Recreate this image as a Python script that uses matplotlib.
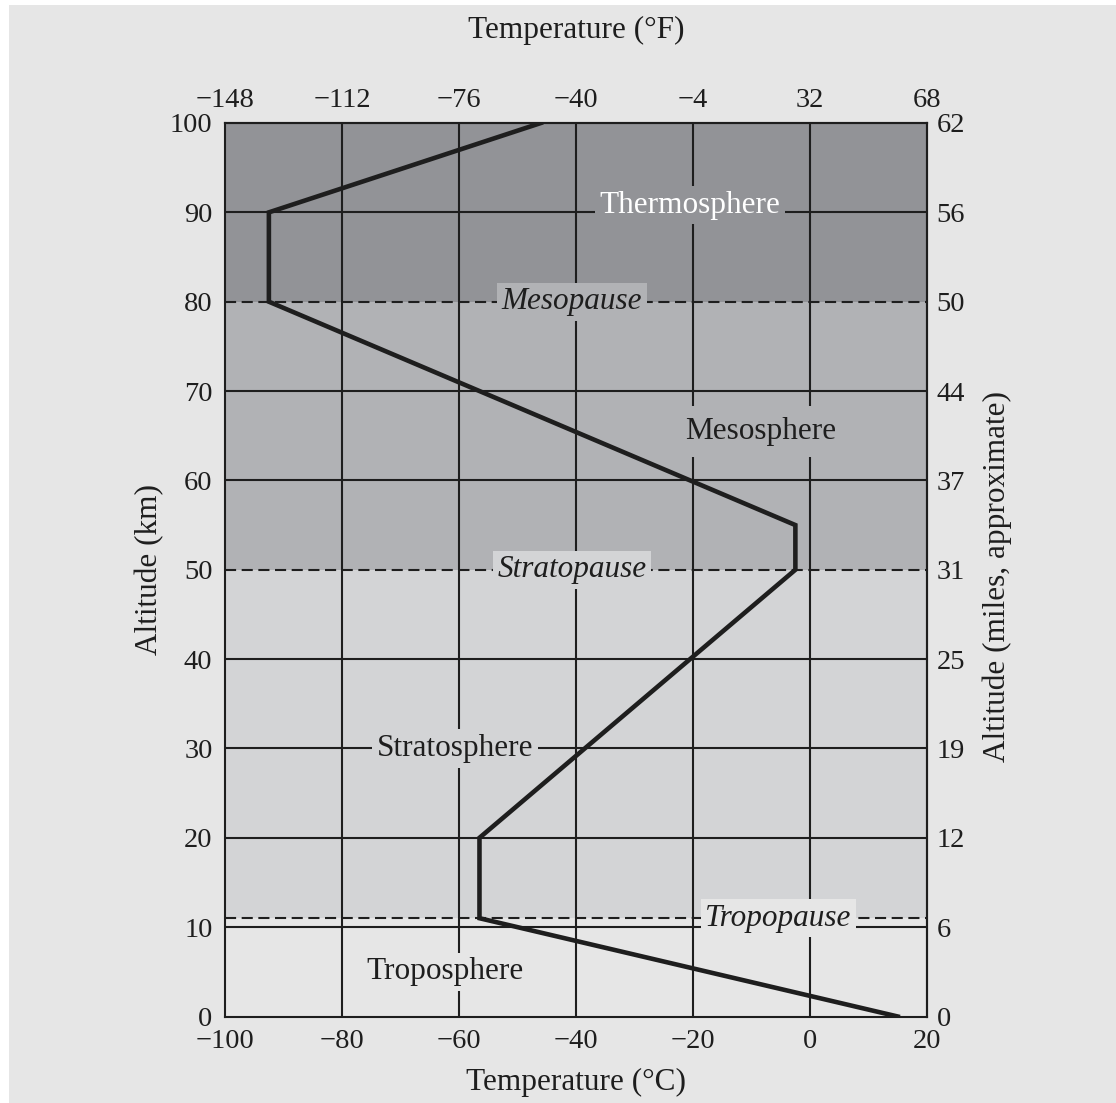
import matplotlib
matplotlib.use('Agg')
import matplotlib.pyplot as plt
from matplotlib.patches import Rectangle

# temperature profile of the standard atmosphere
temp_c = [15, -56.5, -56.5, -2.5, -2.5, -92.5, -92.5, -46]
alt_km = [0, 11, 20, 50, 55, 80, 90, 100]

# layers: bounds and shades
layer_bounds = [0, 11, 50, 80, 100]
layer_colors = ['#e6e6e6', '#d3d4d6', '#b1b2b5', '#929397']
pause_km = [11, 50, 80]

c_ticks = [-100, -80, -60, -40, -20, 0, 20]
f_ticks = [-148, -112, -76, -40, -4, 32, 68]
km_ticks = [0, 10, 20, 30, 40, 50, 60, 70, 80, 90, 100]
mile_labels = ['0', '6', '12', '19', '25', '31', '37', '44', '50', '56', '62']

layer_names = ['Thermosphere', 'Mesopause', 'Mesosphere', 'Stratopause',
               'Stratosphere', 'Tropopause', 'Troposphere']
name_x = [-20.5, -40.7, -8.5, -40.7, -60.7, -5.4, -62.4]
name_y = [90.8, 80, 65.5, 50, 30, 11, 5]
name_italic = [False, True, False, True, False, True, False]

ink = '#1e1e1e'
plt.rcParams['font.family'] = ['Liberation Serif', 'DejaVu Serif']
plt.rcParams['lines.scale_dashes'] = False

fig = plt.figure(figsize=(11.16, 11.03), dpi=100)
fig.patch.set_facecolor('#e6e6e6')
fig.add_artist(Rectangle((0, 1 - 5 / 1103), 1, 5 / 1103, transform=fig.transFigure,
                         color='white', lw=0))
fig.add_artist(Rectangle((0, 0), 9 / 1116, 1, transform=fig.transFigure,
                         color='white', lw=0))

ax = fig.add_axes([225 / 1116, 1 - 1016.5 / 1103, 702 / 1116, 893.5 / 1103])
ax.set_xlim(-100, 20)
ax.set_ylim(0, 100)

for i in range(len(layer_colors)):
    ax.axhspan(layer_bounds[i], layer_bounds[i + 1], color=layer_colors[i], lw=0, zorder=0)

ax.set_xticks(c_ticks)
ax.set_yticks(km_ticks)

# grid by hand, the pause levels get a dashed line instead
for c in c_ticks[1:-1]:
    ax.axvline(c, color=ink, lw=1.5, zorder=1)
for h in km_ticks[1:-1]:
    if h not in pause_km:
        ax.axhline(h, color=ink, lw=1.5, zorder=1)
for h in pause_km:
    ax.axhline(h, color=ink, lw=1.5, linestyle=(0, (8, 4)), zorder=1)

ax.plot(temp_c, alt_km, color=ink, lw=3.3, zorder=4, solid_joinstyle='miter')

box_colors = ['#929397', '#b1b2b5', '#b1b2b5', '#d3d4d6', '#d3d4d6', '#e6e6e6', '#e6e6e6']
for i, name in enumerate(layer_names):
    pad = 0.35 if name == 'Mesosphere' else 0.15
    ax.text(name_x[i], name_y[i], name, ha='center', va='center', fontsize=22.5,
            style='italic' if name_italic[i] else 'normal',
            color='white' if name == 'Thermosphere' else ink,
            bbox=dict(facecolor=box_colors[i], edgecolor='none', boxstyle='square,pad=%g' % pad),
            zorder=3)

for s in ax.spines.values():
    s.set_linewidth(1.5)
    s.set_color(ink)
ax.tick_params(length=0, labelsize=20.5, pad=9, colors=ink)

secx = ax.secondary_xaxis('top', functions=(lambda c: c * 1.8 + 32, lambda f: (f - 32) / 1.8))
secx.set_xticks(f_ticks)
secx.tick_params(length=0, labelsize=20.5, pad=7, colors=ink)
secx.spines['top'].set_linewidth(1.5)
secx.spines['top'].set_color(ink)

secy = ax.secondary_yaxis('right')
secy.set_yticks(km_ticks, labels=mile_labels)
secy.tick_params(length=0, labelsize=20.5, pad=7, colors=ink)
secy.spines['right'].set_linewidth(1.5)
secy.spines['right'].set_color(ink)

ax.set_xlabel('Temperature (°C)', fontsize=22.5, color=ink)
ax.xaxis.set_label_coords(0.5, -0.057)
ax.set_ylabel('Altitude (km)', fontsize=22.5, color=ink)
ax.yaxis.set_label_coords(-0.087, 0.5)
fig.text(576 / 1116, 1 - 30 / 1103, 'Temperature (°F)', fontsize=22.5, color=ink,
         ha='center', va='center')
fig.text(997 / 1116, 1 - 576 / 1103, 'Altitude (miles, approximate)', fontsize=22.5,
         color=ink, rotation=90, ha='center', va='center')

fig.savefig('out.png', dpi=100, facecolor=fig.get_facecolor())
